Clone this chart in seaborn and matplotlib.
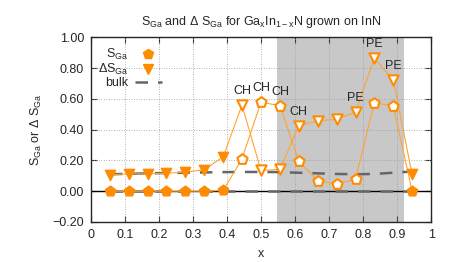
import numpy as np
import pandas as pd
import matplotlib
matplotlib.use("Agg")
import matplotlib.pyplot as plt
import seaborn as sns
from matplotlib.lines import Line2D

# data
x = [0.056, 0.111, 0.167, 0.222, 0.278, 0.333, 0.389, 0.444, 0.5,
     0.556, 0.611, 0.667, 0.722, 0.778, 0.833, 0.889, 0.944]
s_ga = [0.0, 0.0, 0.0, 0.0, 0.0, 0.0, 0.005, 0.21, 0.58,
        0.555, 0.195, 0.067, 0.048, 0.078, 0.575, 0.555, 0.0]
ds_ga = [0.106, 0.113, 0.113, 0.117, 0.124, 0.139, 0.224, 0.56, 0.135,
         0.142, 0.425, 0.458, 0.467, 0.515, 0.864, 0.723, 0.11]
bulk_ds = [0.11, 0.113, 0.116, 0.118, 0.12, 0.122, 0.124, 0.125, 0.125,
           0.124, 0.12, 0.116, 0.112, 0.11, 0.112, 0.12, 0.128]
bulk_s = [0.0, 0.0, 0.0, 0.0, 0.0, 0.0, 0.0, 0.0, 0.0,
          0.0, 0.0, 0.0, 0.0, 0.0, 0.0, 0.0, 0.0]
filled = [True, True, True, True, True, True, True, False, False,
          False, False, False, False, False, False, False, True]
# (point index, series, label)
labels = [(7, "ds", "CH"), (8, "s", "CH"), (9, "s", "CH"), (10, "ds", "CH"),
          (13, "ds", "PE"), (14, "ds", "PE"), (15, "ds", "PE")]
shade = (0.548, 0.921)
xticks = [0, 0.1, 0.2, 0.3, 0.4, 0.5, 0.6, 0.7, 0.8, 0.9, 1.0]
xtick_labels = ["0", "0.1", "0.2", "0.3", "0.4", "0.5", "0.6", "0.7", "0.8", "0.9", "1"]
yticks = [-0.2, 0.0, 0.2, 0.4, 0.6, 0.8, 1.0]
ytick_labels = ["\u22120.20", "0.00", "0.20", "0.40", "0.60", "0.80", "1.00"]

df = pd.DataFrame({"x": x, "s": s_ga, "ds": ds_ga, "bulk_ds": bulk_ds,
                   "bulk_s": bulk_s, "filled": filled})

sns.set_style("ticks")
plt.rcParams["font.family"] = ["Liberation Sans", "DejaVu Sans"]
plt.rcParams["mathtext.default"] = "regular"
plt.rcParams["font.size"] = 9

orange = "#ff8c00"
line_orange = "#ffa333"
gray = "#666666"

fig = plt.figure(figsize=(4.5, 2.62), dpi=100)
ax = fig.add_axes([0.202, 0.153, 0.756, 0.704])

ax.axvspan(shade[0], shade[1], color="#c8c8c8", lw=0, zorder=0)
for t in xticks[1:-1]:
    ax.axvline(t, color="#999999", lw=0.6, ls=(0, (1, 2)), zorder=1)
for t in yticks[1:-1]:
    ax.axhline(t, color="#999999", lw=0.6, ls=(0, (1, 2)), zorder=1)
ax.axhline(0, color="black", lw=1.0, zorder=1.5)

# bulk reference lines
sns.lineplot(data=df, x="x", y="bulk_ds", ax=ax, color=gray, lw=1.8, zorder=2)
sns.lineplot(data=df, x="x", y="bulk_s", ax=ax, color=gray, lw=1.8, zorder=2)
for ln in ax.lines[-2:]:
    ln.set_dashes([5, 4])

# connecting lines
sns.lineplot(data=df, x="x", y="s", ax=ax, color=line_orange, lw=0.8, zorder=3)
sns.lineplot(data=df, x="x", y="ds", ax=ax, color=line_orange, lw=0.8, zorder=3)

fd = df[df["filled"]]
od = df[~df["filled"]]
sns.scatterplot(data=fd, x="x", y="s", ax=ax, marker="p", s=60,
                color=orange, edgecolor=orange, linewidth=1, zorder=4)
sns.scatterplot(data=fd, x="x", y="ds", ax=ax, marker="v", s=55,
                color=orange, edgecolor=orange, linewidth=1, zorder=4)
sns.scatterplot(data=od, x="x", y="s", ax=ax, marker="p", s=60,
                color="white", edgecolor=orange, linewidth=1.5, zorder=4)
sns.scatterplot(data=od, x="x", y="ds", ax=ax, marker="v", s=55,
                color="white", edgecolor=orange, linewidth=1.5, zorder=4)

for i, col, txt in labels:
    ax.annotate(txt, (df["x"][i], df[col][i]), textcoords="offset points",
                xytext=(0, 10), ha="center", va="center", fontsize=9, zorder=5)

ax.set_xlim(0, 1)
ax.set_ylim(-0.2, 1.0)
ax.set_xticks(xticks)
ax.set_xticklabels(xtick_labels)
ax.set_yticks(yticks)
ax.set_yticklabels(ytick_labels)
ax.tick_params(direction="in", top=True, right=True, length=4, width=0.8,
               labelsize=9, pad=5)
for sp in ax.spines.values():
    sp.set_linewidth(1.0)
    sp.set_zorder(6)

ax.set_xlabel("x", fontsize=9, labelpad=5)
ax.set_ylabel("S$_{Ga}$ or $\\Delta$ S$_{Ga}$", fontsize=9, labelpad=6)
ax.set_title("S$_{Ga}$ and $\\Delta$ S$_{Ga}$ for Ga$_x$In$_{1-x}$N grown on InN",
             fontsize=9, pad=9)

handles = [
    Line2D([], [], ls="none", marker="p", ms=7, color=orange),
    Line2D([], [], ls="none", marker="v", ms=6.5, color=orange),
    Line2D([], [], color=gray, lw=1.8, dashes=[5, 4]),
]
ax.legend(handles, ["S$_{Ga}$", "$\\Delta$S$_{Ga}$", "bulk"], loc="upper left",
          bbox_to_anchor=(-0.005, 0.995), frameon=False, markerfirst=False,
          fontsize=9, handlelength=2.2, handletextpad=0.5, labelspacing=0.0,
          borderaxespad=0.3)

fig.savefig("out.png", dpi=100)
